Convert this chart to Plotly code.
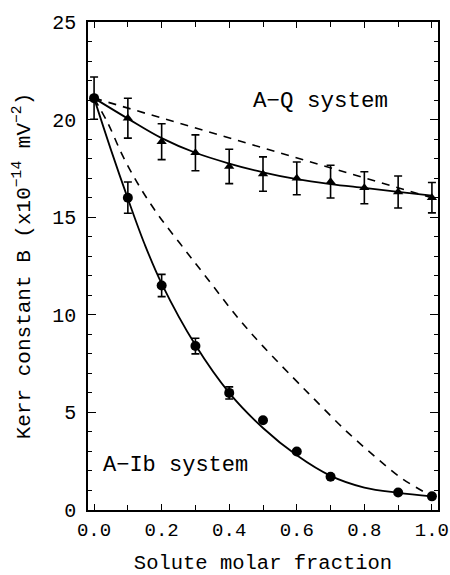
import plotly.graph_objects as go

# ---- data ----
# A-Ib system (circles)
ib_x = [0.0, 0.1, 0.2, 0.3, 0.4, 0.5, 0.6, 0.7, 0.9, 1.0]
ib_y = [21.1, 16.0, 11.5, 8.4, 6.0, 4.6, 3.0, 1.7, 0.9, 0.7]
ib_err = [1.08, 0.8, 0.57, 0.4, 0.31, 0, 0, 0, 0, 0]

# A-Q system (triangles)
aq_x = [0.1, 0.2, 0.3, 0.4, 0.5, 0.6, 0.7, 0.8, 0.9, 1.0]
aq_y = [20.07, 18.87, 18.3, 17.6, 17.21, 16.99, 16.82, 16.51, 16.29, 16.0]
aq_err = [1.02, 0.92, 0.92, 0.88, 0.88, 0.84, 0.84, 0.82, 0.82, 0.78]

# fitted (solid) curves
ib_fit_x = [0.0, 0.05, 0.1, 0.15, 0.2, 0.3, 0.4, 0.5, 0.6, 0.7, 0.8, 0.9, 1.0]
ib_fit_y = [21.1, 18.45, 15.95, 13.6, 11.6, 8.45, 6.0, 4.2, 2.8, 1.75, 1.15, 0.88, 0.7]
aq_fit_x = [0.0, 0.1, 0.2, 0.3, 0.4, 0.5, 0.6, 0.7, 0.8, 0.9, 1.0]
aq_fit_y = [21.1, 20.05, 19.05, 18.3, 17.75, 17.3, 16.95, 16.7, 16.5, 16.3, 16.1]

# ideal (dashed) curves
ib_ideal_x = [0.0, 0.041, 0.086, 0.135, 0.19, 0.254, 0.323, 0.427, 0.501, 0.615,
              0.654, 0.743, 0.832, 0.911, 0.975, 1.0]
ib_ideal_y = [21.1, 19.81, 18.1, 16.56, 15.11, 13.66, 12.13, 9.82, 8.37, 6.32,
              5.64, 4.1, 2.73, 1.62, 0.94, 0.7]
aq_ideal_x = [0.0, 0.5, 1.0]
aq_ideal_y = [21.1, 18.55, 16.0]

x_ticks = [0.0, 0.2, 0.4, 0.6, 0.8, 1.0]
x_tick_text = ["0.0", "0.2", "0.4", "0.6", "0.8", "1.0"]
y_ticks = [0, 5, 10, 15, 20, 25]

FONT = "Liberation Mono, Courier New, monospace"

fig = go.Figure()

fig.add_trace(go.Scatter(x=ib_ideal_x, y=ib_ideal_y, mode="lines",
                         line=dict(color="black", width=1.6, dash="8px,7px", shape="spline")))
fig.add_trace(go.Scatter(x=aq_ideal_x, y=aq_ideal_y, mode="lines",
                         line=dict(color="black", width=1.6, dash="8px,7px")))
fig.add_trace(go.Scatter(x=ib_fit_x, y=ib_fit_y, mode="lines",
                         line=dict(color="black", width=1.8, shape="spline")))
fig.add_trace(go.Scatter(x=aq_fit_x, y=aq_fit_y, mode="lines",
                         line=dict(color="black", width=1.8, shape="spline")))

fig.add_trace(go.Scatter(x=aq_x, y=aq_y, mode="markers",
                         marker=dict(symbol="triangle-up", size=9, color="black"),
                         error_y=dict(type="data", array=aq_err, visible=True,
                                      color="black", thickness=1.6, width=4)))
fig.add_trace(go.Scatter(x=ib_x, y=ib_y, mode="markers",
                         marker=dict(symbol="circle", size=10, color="black"),
                         error_y=dict(type="data", array=ib_err, visible=True,
                                      color="black", thickness=1.6, width=4)))

fig.add_annotation(x=0.67, y=20.95, text="A\u2212Q system", showarrow=False,
                   font=dict(family=FONT, size=22.5, color="black"))
fig.add_annotation(x=0.241, y=2.3, text="A\u2212Ib system", showarrow=False,
                   font=dict(family=FONT, size=22, color="black"))

axis_common = dict(showline=True, linecolor="black", linewidth=1.5, mirror="ticks",
                   ticks="inside", tickcolor="black", tickwidth=1.3,
                   showgrid=False, zeroline=False, automargin=False)

fig.update_xaxes(range=[-0.018, 1.018], tickvals=x_ticks, ticktext=x_tick_text,
                 ticklen=6, ticklabelstandoff=1,
                 tickfont=dict(family=FONT, size=19, color="black"),
                 minor=dict(dtick=0.1, tick0=0, ticks="inside", ticklen=5,
                            tickcolor="black", tickwidth=1.3, showgrid=False),
                 title=dict(text="Solute molar fraction",
                            font=dict(family=FONT, size=20.5, color="black"), standoff=22),
                 **axis_common)
fig.update_yaxes(range=[0, 25], tickvals=y_ticks, ticklen=8, ticklabelstandoff=6,
                 tickfont=dict(family=FONT, size=20, color="black"),
                 minor=dict(dtick=1, tick0=0, ticks="inside", ticklen=4,
                            tickcolor="black", tickwidth=1.3, showgrid=False),
                 title=dict(text="Kerr constant B (x10<sup>\u221214</sup> mV<sup>\u22122</sup>)",
                            font=dict(family=FONT, size=21, color="black"), standoff=16),
                 **axis_common)

fig.update_layout(width=450, height=575, showlegend=False,
                  margin=dict(l=88, r=12, t=22, b=65),
                  paper_bgcolor="white", plot_bgcolor="white")

# remove the default page margin / scrollbars so the 450x575 figure fills the window
fig.write_html("out.html",
               config={"displayModeBar": False},
               post_script="document.body.style.margin='0';"
                           "document.body.style.overflow='hidden';")
